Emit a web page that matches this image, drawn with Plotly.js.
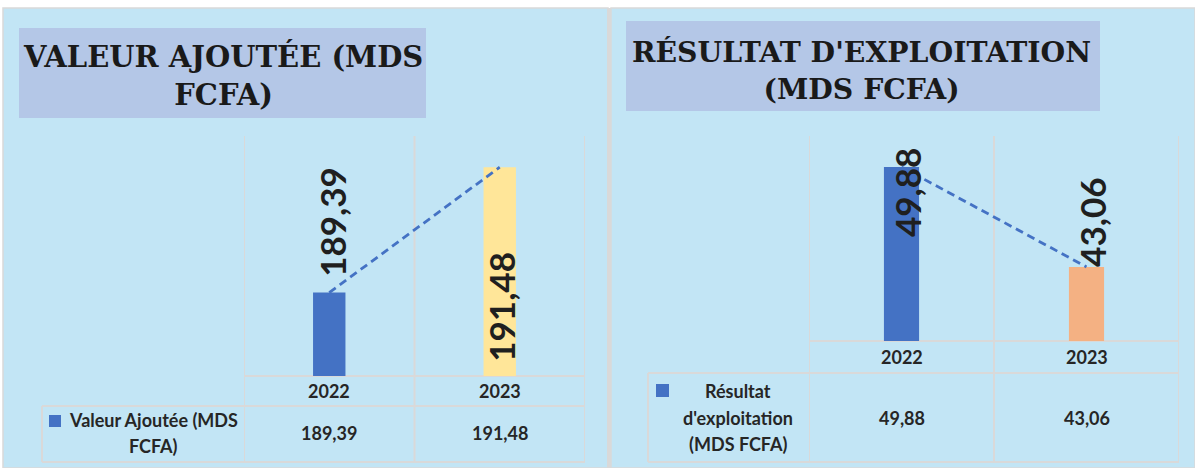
<!DOCTYPE html>
<html>
<head>
<meta charset="utf-8">
<script src="https://cdn.plot.ly/plotly-3.0.1.min.js"></script>
<style>html,body{margin:0;padding:0;background:#fff;}#chart{width:1195px;height:468px;}</style>
</head>
<body>
<div id="chart"></div>
<script>
// ---- data ----
const categories = ['2022', '2023'];
const vaValues = [189.39, 191.48];
const reValues = [49.88, 43.06];
const vaColors = ['#4472C4', '#FFE699'];
const reColors = ['#4472C4', '#F4B183'];
const vaRange = [188, 192];
const reRange = [38, 52];
const vaTitle = 'VALEUR AJOUTÉE (MDS<br>FCFA)';
const reTitle = "RÉSULTAT D'EXPLOITATION<br>(MDS FCFA)";
const vaLegend = 'Valeur Ajoutée (MDS<br>FCFA)';
const reLegend = "Résultat<br>d'exploitation<br>(MDS FCFA)";

// ---- layout helpers ----
const W = 1195, H = 468;
const px = x => x / W;
const py = y => 1 - y / H;
const fmt = v => v.toFixed(2).replace('.', ',');

const BG = '#C2E5F5';
const GRID = '#D9D9D9';
const TXT = '#262626';
const LINE_BLUE = '#4472C4';

const traces = [
  {type: 'bar', x: categories, y: vaValues, xaxis: 'x', yaxis: 'y', width: 0.19,
   marker: {color: vaColors, line: {width: 0}}, hoverinfo: 'skip'},
  {type: 'scatter', mode: 'lines', x: categories, y: vaValues, xaxis: 'x', yaxis: 'y',
   line: {color: LINE_BLUE, width: 2.8, dash: '8px,5px'}, hoverinfo: 'skip'},
  {type: 'bar', x: categories, y: reValues, xaxis: 'x2', yaxis: 'y2', width: 0.19,
   marker: {color: reColors, line: {width: 0}}, hoverinfo: 'skip'},
  {type: 'scatter', mode: 'lines', x: categories, y: reValues, xaxis: 'x2', yaxis: 'y2',
   line: {color: LINE_BLUE, width: 2.8, dash: '8px,5px'}, hoverinfo: 'skip'}
];

const axBase = {type: 'category', range: [-0.5, 1.5], showticklabels: false, showgrid: false,
  zeroline: false, showline: false, ticks: '', fixedrange: true};
const yBase = {visible: false, showgrid: false, zeroline: false, fixedrange: true};

const shapes = [];
function rect(x0, y0, x1, y1, fill, line) {
  shapes.push({type: 'rect', xref: 'paper', yref: 'paper', layer: 'below',
    x0: px(x0), x1: px(x1), y0: py(y1), y1: py(y0), fillcolor: fill,
    line: line || {width: 0}});
}
function hline(x0, x1, y) {
  shapes.push({type: 'line', xref: 'paper', yref: 'paper', layer: 'below',
    x0: px(x0), x1: px(x1), y0: py(y), y1: py(y), line: {color: GRID, width: 2}});
}
function vline(xref, x, y0, y1) {
  shapes.push({type: 'line', xref: xref, yref: 'paper', layer: 'below',
    x0: x, x1: x, y0: py(y0), y1: py(y1), line: {color: GRID, width: 2}});
}

// panels
rect(3, 8, 608, 468, BG, {color: GRID, width: 1.5});
rect(611, 8, 1195, 468, BG, {color: GRID, width: 1.5});
rect(607, 8, 611, 468, GRID);
// title boxes
rect(19, 28, 426, 118, '#B4C7E7');
rect(626, 21, 1100, 111, '#B4C7E7');

// left table grid
[-0.5, 0.5, 1.5].forEach(v => vline('x', v, 136, 462));
hline(244, 585, 376);
hline(42, 585, 406);
hline(42, 585, 462);
vline('paper', px(42), 406, 462);
// right table grid
[-0.5, 0.5, 1.5].forEach(v => vline('x2', v, 136, 462));
hline(809, 1179, 341);
hline(648, 1179, 373);
hline(648, 1179, 462);
vline('paper', px(648), 373, 462);
// legend keys
rect(49, 415, 61, 427, LINE_BLUE);
rect(656, 384, 669, 397, LINE_BLUE);

const annotations = [];
annotations.push({xref: 'paper', yref: 'paper', x: px(223), y: py(76), text: vaTitle,
  showarrow: false, xanchor: 'center', yanchor: 'middle',
  font: {family: 'DejaVu Serif', size: 29, color: '#1A1A1A', weight: 700}});
annotations.push({xref: 'paper', yref: 'paper', x: px(861), y: py(70), text: reTitle,
  showarrow: false, xanchor: 'center', yanchor: 'middle',
  font: {family: 'DejaVu Serif', size: 28.3, color: '#1A1A1A', weight: 700}});

const tblFont = {family: 'Lato', size: 18, color: TXT, weight: 700};
categories.forEach((c, i) => {
  annotations.push({xref: 'x', yref: 'paper', x: i, y: py(391), text: c, showarrow: false,
    yanchor: 'middle', font: tblFont});
  annotations.push({xref: 'x', yref: 'paper', x: i, y: py(433), text: fmt(vaValues[i]), showarrow: false,
    yanchor: 'middle', font: tblFont});
  annotations.push({xref: 'x2', yref: 'paper', x: i, y: py(357), text: c, showarrow: false,
    yanchor: 'middle', font: tblFont});
  annotations.push({xref: 'x2', yref: 'paper', x: i, y: py(418), text: fmt(reValues[i]), showarrow: false,
    yanchor: 'middle', font: tblFont});
});
// legend text, one annotation per line
function legendLines(text, cx, firstY, step) {
  text.split('<br>').forEach((ln, k) => {
    annotations.push({xref: 'paper', yref: 'paper', x: px(cx), y: py(firstY + k * step), text: ln,
      showarrow: false, xanchor: 'center', yanchor: 'middle', font: tblFont});
  });
}
legendLines(vaLegend, 153, 420, 26);
legendLines(reLegend, 738, 391, 26.5);

// rotated data labels
const lblFont = {family: 'Lato', size: 35, color: '#1F1F1F', weight: 700};
annotations.push({xref: 'x', yref: 'y', x: 0, y: vaValues[0], text: fmt(vaValues[0]),
  textangle: -90, showarrow: false, yanchor: 'bottom', yshift: 14, xshift: 2, font: lblFont});
annotations.push({xref: 'x', yref: 'y', x: 1, y: vaRange[0], text: fmt(vaValues[1]),
  textangle: -90, showarrow: false, yanchor: 'bottom', yshift: 12, xshift: 1, font: lblFont});
annotations.push({xref: 'x2', yref: 'y2', x: 0, y: reValues[0], text: fmt(reValues[0]),
  textangle: -90, showarrow: false, yanchor: 'top', yshift: 21, xshift: 5, font: lblFont});
annotations.push({xref: 'x2', yref: 'y2', x: 1, y: reValues[1], text: fmt(reValues[1]),
  textangle: -90, showarrow: false, yanchor: 'bottom', yshift: -2, xshift: 6, font: lblFont});

const layout = {
  width: W, height: H, margin: {l: 0, r: 0, t: 0, b: 0, pad: 0},
  paper_bgcolor: '#FFFFFF', plot_bgcolor: 'rgba(0,0,0,0)',
  showlegend: false, barmode: 'overlay',
  xaxis: Object.assign({}, axBase, {domain: [px(244), px(585)], anchor: 'y'}),
  yaxis: Object.assign({}, yBase, {domain: [py(376), py(136)], range: vaRange, anchor: 'x'}),
  xaxis2: Object.assign({}, axBase, {domain: [px(809), px(1179)], anchor: 'y2'}),
  yaxis2: Object.assign({}, yBase, {domain: [py(341), py(136)], range: reRange, anchor: 'x2'}),
  shapes: shapes, annotations: annotations
};

Plotly.newPlot('chart', traces, layout, {displayModeBar: false, staticPlot: true});
</script>
</body>
</html>
